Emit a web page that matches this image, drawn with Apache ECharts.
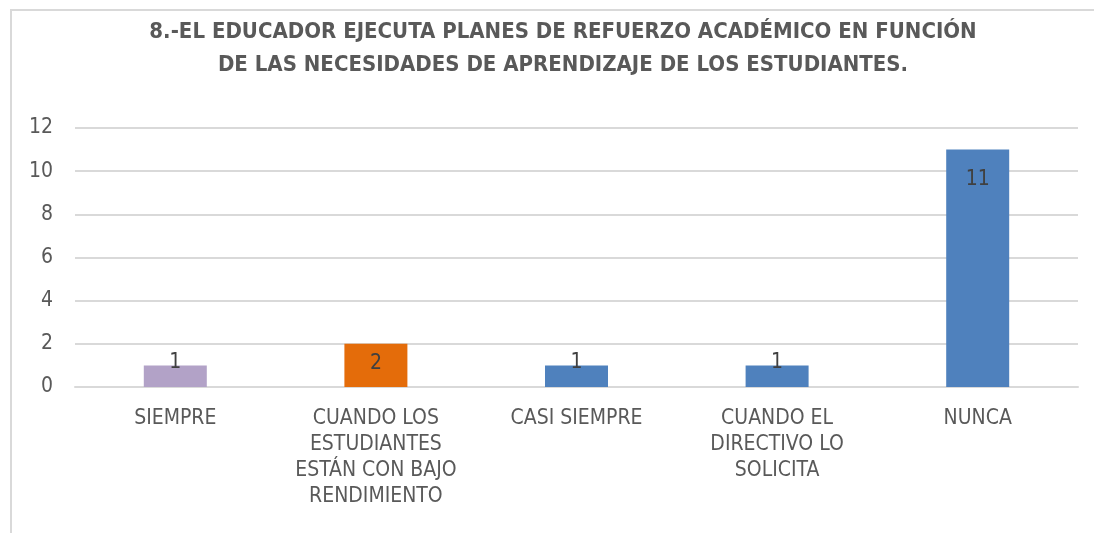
<!DOCTYPE html>
<html>
<head>
<meta charset="utf-8">
<script src="https://cdn.jsdelivr.net/npm/echarts@6/dist/echarts.min.js"></script>
<style>
  html, body { margin: 0; padding: 0; background: #fff; overflow: hidden; }
  #frame { position: absolute; left: 10px; top: 9px; width: 1200px; height: 600px;
           border-top: 2px solid #d9d9d9; border-left: 2px solid #d9d9d9; box-sizing: border-box; }
  #main { position: absolute; left: 0; top: 0; width: 1094px; height: 533px; }
</style>
</head>
<body>
<div id="frame"></div>
<div id="main"></div>
<script>
// categories and values
var categories = [
  'SIEMPRE',
  'CUANDO LOS\nESTUDIANTES\nESTÁN CON BAJO\nRENDIMIENTO',
  'CASI SIEMPRE',
  'CUANDO EL\nDIRECTIVO LO\nSOLICITA',
  'NUNCA'
];
var values = [1, 2, 1, 1, 11];
var barColors = ['#b2a2c7', '#e46c0a', '#4f81bd', '#4f81bd', '#4f81bd'];
var yTicks = [0, 2, 4, 6, 8, 10, 12];

var chart = echarts.init(document.getElementById('main'));

var font = '"Liberation Sans Narrow", "DejaVu Sans Condensed", sans-serif';

var option = {
  backgroundColor: 'transparent',
  animation: false,
  title: {
    text: '8.-EL EDUCADOR EJECUTA PLANES DE REFUERZO ACADÉMICO EN FUNCIÓN\nDE LAS NECESIDADES DE APRENDIZAJE DE LOS ESTUDIANTES.',
    left: 558,
    top: 11,
    textAlign: 'center',
    textStyle: {
      fontFamily: font,
      fontWeight: 'bold',
      fontSize: 22,
      lineHeight: 33,
      color: '#595959'
    }
  },
  grid: {
    left: 75,
    right: 16,
    top: 128,
    bottom: 146
  },
  xAxis: {
    type: 'category',
    data: categories,
    axisLine: { lineStyle: { color: '#d9d9d9', width: 2 } },
    axisTick: { show: false },
    axisLabel: {
      fontFamily: font,
      fontSize: 21,
      lineHeight: 26,
      color: '#595959',
      margin: 19,
      interval: 0
    }
  },
  yAxis: {
    type: 'value',
    min: yTicks[0],
    max: yTicks[yTicks.length - 1],
    interval: 2,
    axisLine: { show: false },
    axisTick: { show: false },
    splitLine: { lineStyle: { color: '#d9d9d9', width: 2 } },
    axisLabel: {
      fontFamily: font,
      fontSize: 21,
      color: '#595959',
      margin: 22
    }
  },
  series: [{
    type: 'bar',
    barWidth: 63,
    data: values.map(function (v, i) {
      var dist = v >= 5 ? 19 : (v >= 2 ? 9 : -13);
      return {
        value: v,
        itemStyle: { color: barColors[i] },
        label: { distance: dist }
      };
    }),
    label: {
      show: true,
      position: 'insideTop',
      fontFamily: font,
      fontSize: 21,
      color: '#404040'
    }
  }]
};

chart.setOption(option);
</script>
</body>
</html>
